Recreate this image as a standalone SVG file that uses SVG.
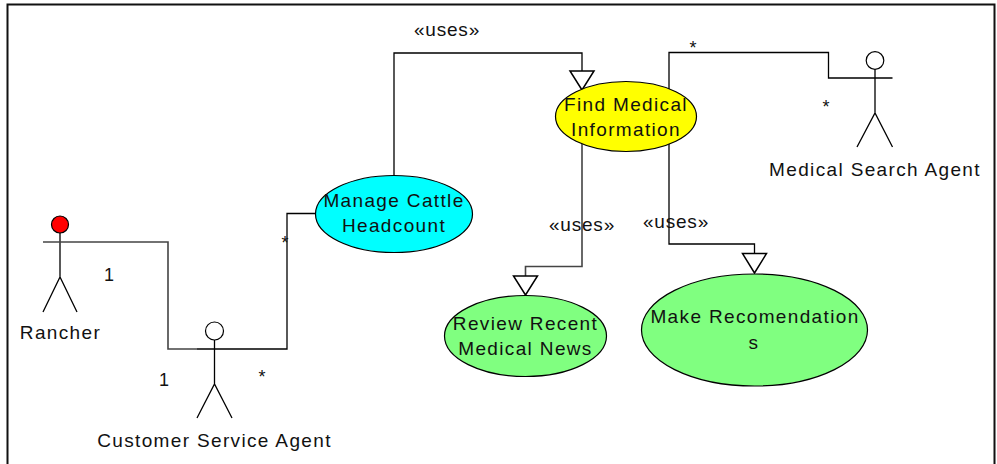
<svg xmlns="http://www.w3.org/2000/svg" width="997" height="464" viewBox="0 0 997 464">
<style>
text{font-family:"Liberation Sans",Arial,sans-serif;font-size:19px;fill:#111;text-anchor:middle;letter-spacing:1.35px}
.u{letter-spacing:.8px}
.n{letter-spacing:0;font-size:18px}
.l{fill:none;stroke:#000;stroke-width:1.3}
.g{fill:none;stroke:#444;stroke-width:1.6}
.e{stroke:#000;stroke-width:1.2}
.t{fill:#fff;stroke:#000;stroke-width:1.5}
.h{fill:#fff;stroke:#000;stroke-width:1.2}
</style>
<rect width="997" height="464" fill="#fff"/>
<path d="M7.500 464V4.500H994.500V464" fill="none" stroke="#111" stroke-width="2"/>
<g id="connectors">
<path class="g" d="M78 242H168V349H197"/>
<path class="l" d="M232 349H287V213.500H316"/>
<path class="l" d="M394 176V53H582V71"/>
<path class="l" d="M669 89V52.500H828.500V78H857"/>
<path class="g" d="M582 143V266.500H525.500V276"/>
<path class="l" d="M669 143V244H754.500V253.500"/>
<path class="t" d="M570 71H594L582 90Z"/>
<path class="t" d="M513.500 276H537.500L525.500 295Z"/>
<path class="t" d="M742.500 253.500H766.500L754.500 273Z"/>
<text class="u" x="447" y="36">«uses»</text>
<text class="u" x="582" y="231">«uses»</text>
<text class="u" x="676" y="228">«uses»</text>
<text class="n" x="109" y="281">1</text>
<text class="n" x="164" y="386">1</text>
<text class="n" x="285" y="249">*</text>
<text class="n" x="262" y="383">*</text>
<text class="n" x="693" y="54">*</text>
<text class="n" x="826" y="113">*</text>
</g>
<g id="rancher">
<circle cx="60" cy="224.500" r="8.500" fill="#f00" stroke="#000" stroke-width="1.200"/>
<path class="l" d="M60 233V277M43 312L60 277L77 312"/><path class="g" d="M43 242H78"/>
<text x="60.500" y="339">Rancher</text>
</g>
<g id="customer-service-agent">
<circle class="h" cx="214.500" cy="331" r="9"/>
<path class="l" d="M214.500 340V384M197 418L214.500 384L232 418M197 349H232"/>
<text x="214.500" y="447">Customer Service Agent</text>
</g>
<g id="medical-search-agent">
<circle class="h" cx="875" cy="60.500" r="8.800"/>
<path class="l" d="M875 69.500V113M857 147L875 113L892.500 147M857 78H892.500"/>
<text x="875" y="176">Medical Search Agent</text>
</g>
<g id="manage-cattle-headcount">
<ellipse class="e" cx="394" cy="214" rx="78.500" ry="38.500" fill="#0ff"/>
<text x="394" y="207">Manage Cattle</text><text x="394" y="232">Headcount</text>
</g>
<g id="find-medical-information">
<ellipse class="e" cx="626" cy="116.500" rx="70.500" ry="35" fill="#ff0"/>
<text x="626" y="111">Find Medical</text><text x="626" y="136">Information</text>
</g>
<g id="review-recent-medical-news">
<ellipse class="e" cx="525.500" cy="336" rx="81" ry="40.500" fill="#80ff80"/>
<text x="525.500" y="330">Review Recent</text><text x="525.500" y="355">Medical News</text>
</g>
<g id="make-recomendations">
<ellipse class="e" cx="754.500" cy="330" rx="113" ry="56" fill="#80ff80"/>
<text x="755" y="323">Make Recomendation</text><text x="754" y="349">s</text>
</g>
</svg>
